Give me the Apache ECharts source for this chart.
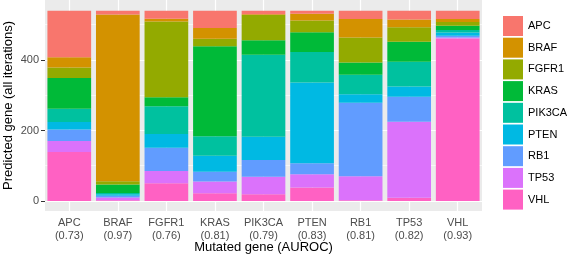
<!DOCTYPE html>
<html>
<head>
<meta charset="utf-8">
<script src="https://cdn.jsdelivr.net/npm/echarts@6/dist/echarts.min.js"></script>
<style>
  html, body { margin: 0; padding: 0; background: #fff; }
  #chart { width: 567px; height: 257px; }
</style>
</head>
<body>
<div id="chart"></div>
<script>
// mutated genes (x) and their AUROC
const categories = ['APC', 'BRAF', 'FGFR1', 'KRAS', 'PIK3CA', 'PTEN', 'RB1', 'TP53', 'VHL'];
const auroc = ['0.73', '0.97', '0.76', '0.81', '0.79', '0.83', '0.81', '0.82', '0.93'];

// predicted gene counts, one array per predicted gene, in category order
const predAPC    = [132, 11, 23, 49, 10, 9, 24, 25, 24];
const predBRAF   = [29, 473, 8, 31, 2, 19, 52, 22, 8];
const predFGFR1  = [30, 9, 215, 21, 72, 33, 71, 41, 11];
const predKRAS   = [87, 24, 25, 255, 41, 56, 35, 57, 12];
const predPIK3CA = [38, 4, 79, 56, 233, 87, 55, 70, 7];
const predPTEN   = [21, 4, 39, 45, 66, 229, 24, 29, 9];
const predRB1    = [33, 5, 66, 28, 47, 31, 209, 71, 5];
const predTP53   = [31, 8, 35, 33, 50, 38, 68, 216, 3];
const predVHL    = [139, 2, 50, 22, 19, 38, 2, 9, 461];

const yTicks = [0, 200, 400];
const yMinor = [100, 300, 500];

const predicted = [
  { name: 'APC', data: predAPC, color: '#F8766D' },
  { name: 'BRAF', data: predBRAF, color: '#D39200' },
  { name: 'FGFR1', data: predFGFR1, color: '#93AA00' },
  { name: 'KRAS', data: predKRAS, color: '#00BA38' },
  { name: 'PIK3CA', data: predPIK3CA, color: '#00C19F' },
  { name: 'PTEN', data: predPTEN, color: '#00B9E3' },
  { name: 'RB1', data: predRB1, color: '#619CFF' },
  { name: 'TP53', data: predTP53, color: '#DB72FB' },
  { name: 'VHL', data: predVHL, color: '#FF61C3' }
];

const font = 'Liberation Sans, Arial, sans-serif';
const chart = echarts.init(document.getElementById('chart'));

// ggplot stacks the first level on top, so feed series bottom-up
const series = predicted.slice().reverse().map(p => ({
  name: p.name,
  type: 'bar',
  stack: 'total',
  barCategoryGap: '10%',
  itemStyle: { color: p.color },
  data: p.data
}));

chart.setOption({
  animation: false,
  grid: {
    left: 45, top: 0, width: 437, height: 211,
    containLabel: false, outerBoundsMode: 'none',
    show: true, backgroundColor: '#EBEBEB', borderWidth: 0
  },
  legend: {
    orient: 'vertical',
    left: 503, top: 16, padding: 0,
    itemWidth: 20, itemHeight: 20, itemGap: 1.7,
    icon: 'rect',
    textStyle: { fontFamily: font, fontSize: 11, color: '#000' },
    data: predicted.map(p => p.name)
  },
  xAxis: {
    type: 'category',
    data: categories.map((c, i) => c + '\n(' + auroc[i] + ')'),
    axisLine: { show: false },
    axisTick: { alignWithLabel: true, length: 4, lineStyle: { color: '#333' } },
    axisLabel: { interval: 0, margin: 5, fontFamily: font, fontSize: 11, lineHeight: 13, color: '#4D4D4D' },
    splitLine: { show: true, alignWithLabel: true, lineStyle: { color: '#fff', width: 1.2 } },
    name: 'Mutated gene (AUROC)',
    nameLocation: 'middle',
    nameGap: 30,
    nameMoveOverlap: false,
    nameTextStyle: { fontFamily: font, fontSize: 13, color: '#000' }
  },
  yAxis: [{
    type: 'value',
    min: -28.4, max: 570.2,
    axisLine: { show: false },
    axisTick: { show: true, customValues: yTicks, length: 4, lineStyle: { color: '#333' } },
    axisLabel: { customValues: yTicks, margin: 6, fontFamily: font, fontSize: 11, color: '#4D4D4D' },
    splitLine: { show: true, lineStyle: { color: '#fff', width: 1.2 } },
    name: 'Predicted gene (all iterations)',
    nameLocation: 'middle',
    nameGap: 30,
    nameMoveOverlap: false,
    nameTextStyle: { fontFamily: font, fontSize: 13, color: '#000' }
  }, {
    type: 'value',
    position: 'left',
    min: -28.4, max: 570.2,
    axisLine: { show: false },
    axisTick: { show: false, customValues: yMinor },
    axisLabel: { show: false },
    splitLine: { show: true, lineStyle: { color: '#fff', width: 0.6 } }
  }],
  series: series
});
</script>
</body>
</html>
